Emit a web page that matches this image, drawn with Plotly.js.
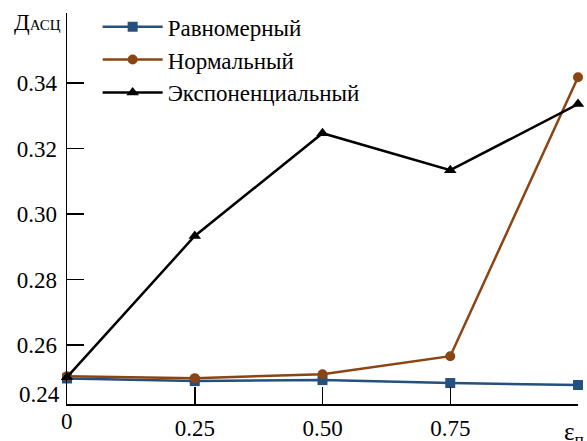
<!DOCTYPE html>
<html><head><meta charset="utf-8">
<script src="https://cdn.plot.ly/plotly-3.0.1.min.js"></script>
<style>body{margin:0;padding:0;background:#fff}#chart{width:587px;height:441px}</style>
</head><body><div id="chart"></div>
<script>
const xVals = [0, 0.25, 0.5, 0.75, 1];
const uniform = [0.2498, 0.2490, 0.2493, 0.2484, 0.2478];
const normal = [0.2505, 0.2499, 0.2511, 0.2566, 0.3418];
const expo = [0.2502, 0.2933, 0.3247, 0.3134, 0.3336];
const names = ['Равномерный', 'Нормальный', 'Экспоненциальный'];
const xTickVals = [0.25, 0.5, 0.75];
const xTickText = ['0.25', '0.50', '0.75'];
const yTickVals = [0.26, 0.28, 0.30, 0.32, 0.34];
const yTickText = ['0.26', '0.28', '0.30', '0.32', '0.34'];

const font = 'Liberation Serif';
const traces = [
  {x: xVals, y: uniform, name: names[0], mode: 'lines+markers',
   line: {color: '#24507e', width: 2.5}, marker: {symbol: 'square', size: 10, color: '#24507e'}, cliponaxis: false},
  {x: xVals, y: normal, name: names[1], mode: 'lines+markers',
   line: {color: '#8b4513', width: 2.5}, marker: {symbol: 'circle', size: 10, color: '#8b4513'}, cliponaxis: false},
  {x: xVals, y: expo, name: names[2], mode: 'lines+markers',
   line: {color: '#000000', width: 2.5}, marker: {symbol: 'triangle-up', size: 11, color: '#000000'}, cliponaxis: false}
];
const layout = {
  width: 587, height: 441,
  margin: {l: 67, r: 9, t: 13, b: 37, autoexpand: false},
  paper_bgcolor: '#fff', plot_bgcolor: '#fff',
  font: {family: font, size: 23, color: '#000'},
  showlegend: true,
  legend: {x: 0.06, y: 1.02, xanchor: 'left', yanchor: 'top', bgcolor: 'rgba(0,0,0,0)',
           font: {family: font, size: 23, color: '#000'}, tracegroupgap: 0, itemwidth: 60},
  xaxis: {range: [0, 1], showgrid: false, zeroline: false, showline: true, linecolor: '#000', linewidth: 1.5,
          ticks: 'inside', ticklen: 17, tickwidth: 1.5, tickcolor: '#000',
          tickvals: xTickVals, ticktext: xTickText, ticklabelstandoff: 3, tickfont: {family: font, size: 23, color: '#000'}},
  yaxis: {range: [0.2420, 0.3614], showgrid: false, zeroline: false, showline: true, linecolor: '#000', linewidth: 1.5,
          ticks: 'inside', ticklen: 17, tickwidth: 1.5, tickcolor: '#000',
          tickvals: yTickVals, ticktext: yTickText, ticklabelstandoff: 4, tickfont: {family: font, size: 23, color: '#000'}},
  annotations: [
    {xref: 'paper', yref: 'paper', x: 0, y: 0, xshift: -5, yshift: 10, xanchor: 'right', yanchor: 'middle',
     text: '0.24', showarrow: false, font: {family: font, size: 23, color: '#000'}},
    {xref: 'paper', yref: 'paper', x: 0, y: 0, yshift: -17, xanchor: 'center', yanchor: 'middle',
     text: '0', showarrow: false, font: {family: font, size: 23, color: '#000'}},
    {xref: 'paper', yref: 'paper', x: 1, y: 0, xshift: -4, yshift: -29, xanchor: 'center', yanchor: 'middle',
     text: 'ε<sub>п</sub>', showarrow: false, font: {family: font, size: 25, color: '#000'}},
    {xref: 'paper', yref: 'paper', x: 0, y: 1, xshift: -4, yshift: -9, xanchor: 'right', yanchor: 'middle',
     text: 'Д<span style="font-size:15px">АСЦ</span>', showarrow: false, font: {family: font, size: 23, color: '#000'}}
  ]
};
Plotly.newPlot('chart', traces, layout, {displayModeBar: false, staticPlot: true});
</script></body></html>
